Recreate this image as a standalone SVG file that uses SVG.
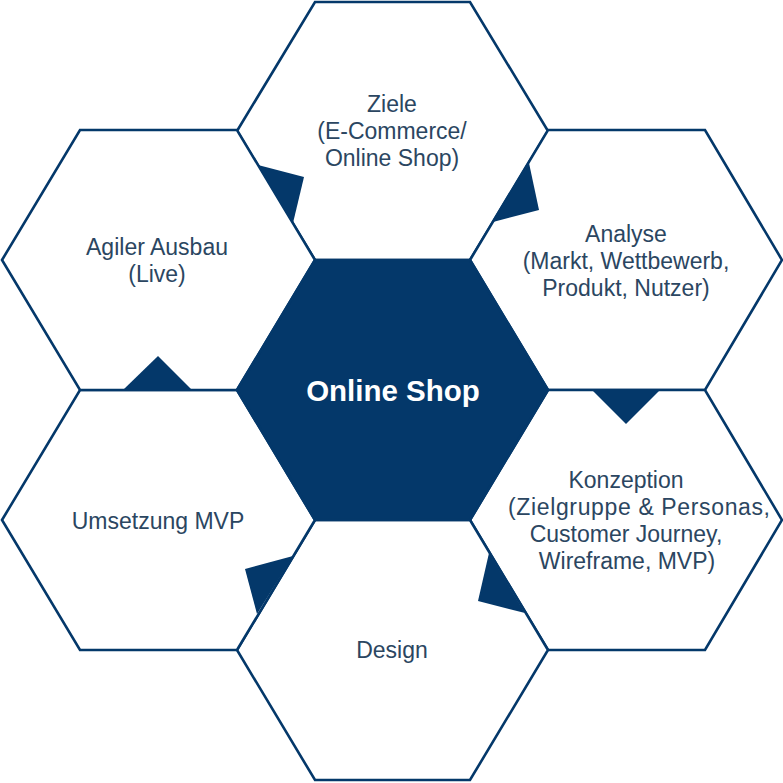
<svg xmlns="http://www.w3.org/2000/svg" width="783" height="783" viewBox="0 0 783 783">
<style>
.hex{fill:#ffffff;stroke:#04386a;stroke-width:2.6;stroke-linejoin:miter}
.core{fill:#04386a;stroke:#04386a;stroke-width:2.6}
.tri{fill:#04386a;stroke:none}
.lbl{font-family:"Liberation Sans",Arial,sans-serif;font-size:23px;fill:#2b4661;text-anchor:middle}
.title{font-family:"Liberation Sans",Arial,sans-serif;font-size:29.5px;font-weight:bold;fill:#ffffff;text-anchor:middle}
</style>
<rect width="783" height="783" fill="#ffffff"/>
<g id="ziele">
<polygon class="hex" points="237,131 315,2 470,2 548,131 470,260 315,260"/>
<text class="lbl" x="392" y="112">Ziele</text>
<text class="lbl" x="392" y="139">(E-Commerce/</text>
<text class="lbl" x="392" y="166">Online Shop)</text>
</g>
<g id="analyse">
<polygon class="hex" points="470,260 548,130 705,130 782,260 705,390 548,390"/>
<text class="lbl" x="626" y="242">Analyse</text>
<text class="lbl" x="626" y="269">(Markt, Wettbewerb,</text>
<text class="lbl" x="626" y="296">Produkt, Nutzer)</text>
</g>
<g id="konzeption">
<polygon class="hex" points="470,520 548,390 705,390 782,520 705,650 548,650"/>
<text class="lbl" x="626" y="488">Konzeption</text>
<text class="lbl" x="639" y="515" textLength="262" lengthAdjust="spacing">(Zielgruppe &amp; Personas,</text>
<text class="lbl" x="626" y="542">Customer Journey,</text>
<text class="lbl" x="627" y="569">Wireframe, MVP)</text>
</g>
<g id="design">
<polygon class="hex" points="237,650 315,520 470,520 548,650 470,780 315,780"/>
<text class="lbl" x="392" y="658">Design</text>
</g>
<g id="umsetzung">
<polygon class="hex" points="2,520 80,390 237,390 315,520 237,650 80,650"/>
<text class="lbl" x="158" y="529">Umsetzung MVP</text>
</g>
<g id="agiler">
<polygon class="hex" points="2,260 80,130 237,130 315,260 237,390 80,390"/>
<text class="lbl" x="157" y="255">Agiler Ausbau</text>
<text class="lbl" x="157" y="282">(Live)</text>
</g>
<g id="online-shop">
<polygon class="core" points="237,390 315,260 470,260 548,390 470,520 315,520"/>
<text class="title" x="393" y="401">Online Shop</text>
</g>
<g id="connectors">
<polygon class="tri" points="258,165 304,177 293,223"/>
<polygon class="tri" points="529,163 539,210 493,222"/>
<polygon class="tri" points="592,390 660,390 626,424"/>
<polygon class="tri" points="489,553 478,601 525,613"/>
<polygon class="tri" points="293,556 245,569 257,614"/>
<polygon class="tri" points="123,390 192,390 158,356"/>
</g>
</svg>
